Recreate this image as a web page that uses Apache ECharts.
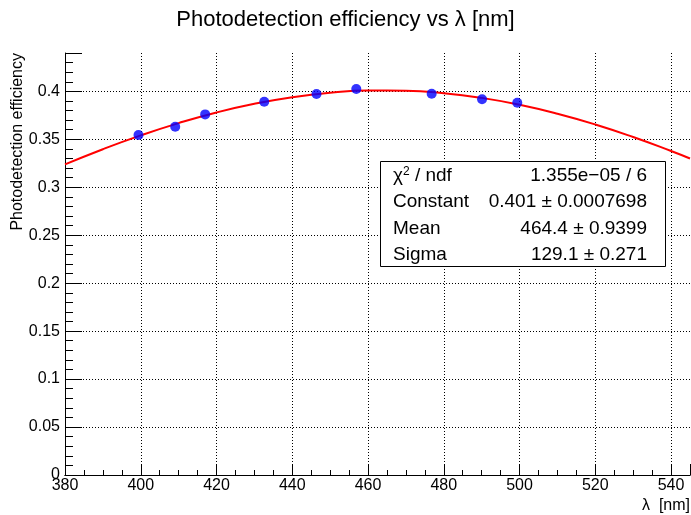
<!DOCTYPE html>
<html>
<head>
<meta charset="utf-8">
<script src="https://cdn.jsdelivr.net/npm/echarts@6/dist/echarts.min.js"></script>
<style>
html,body{margin:0;padding:0;background:#fff;}
#c{width:691px;height:515px;}
</style>
</head>
<body>
<div id="c"></div>
<script>
// ---- data ----
var titleText = 'Photodetection efficiency vs \u03bb [nm]';
var yAxisTitle = 'Photodetection efficiency';
var xAxisTitle = '\u03bb  [nm]';

var pointX = [399.4, 409.1, 417.0, 432.6, 446.4, 456.9, 476.8, 490.1, 499.4];
var pointY = [0.3545, 0.3631, 0.3760, 0.3892, 0.3972, 0.4024, 0.3975, 0.3917, 0.3881];

var fitX = [380, 390, 400, 410, 420, 430, 440, 450, 460, 470, 480, 490, 500, 510, 520, 530, 540, 545];
var fitY = [0.3238, 0.3397, 0.3541, 0.3669, 0.3780, 0.3870, 0.3939, 0.3985, 0.4008, 0.4006, 0.3981, 0.3932, 0.3860, 0.3767, 0.3655, 0.3524, 0.3378, 0.3300];

var statsLabels = ['chi2', 'Constant', 'Mean', 'Sigma'];
var statsValues = ['1.355e\u221205 / 6', '0.401 \u00b1 0.0007698', '464.4 \u00b1 0.9399', '129.1 \u00b1 0.271'];

var xMin = 380, xMax = 545, xStep = 20;
var yMin = 0, yMax = 0.44, yStep = 0.05;

// ---- chart ----
var FONT = '"Liberation Sans", Arial, Helvetica, sans-serif';
var chart = echarts.init(document.getElementById('c'), null, {renderer: 'canvas'});

var pts = pointX.map(function (x, i) { return [x, pointY[i]]; });
var fit = fitX.map(function (x, i) { return [x, fitY[i]]; });

var gridL = 65, gridT = 53, gridW = 625, gridH = 422;

var statsRows = [];
var rowY0 = 176, rowDy = 26.2;
statsLabels.forEach(function (lab, i) {
  var leftText = lab === 'chi2' ? '{a|\u03c7}{s|2}{a| / ndf}' : '{a|' + lab + '}';
  statsRows.push({
    type: 'text', x: 393, y: rowY0 + i * rowDy, z: 101,
    style: {
      text: leftText, fill: '#000', font: '19px ' + FONT,
      textAlign: 'left', textVerticalAlign: 'middle',
      rich: {
        a: {fontFamily: FONT, fontSize: 19, fill: '#000'},
        s: {fontFamily: FONT, fontSize: 12, fill: '#000', verticalAlign: 'top', padding: [0, 0, 8, 0]}
      }
    }
  });
  statsRows.push({
    type: 'text', x: 647, y: rowY0 + i * rowDy, z: 101,
    style: {
      text: statsValues[i], fill: '#000', font: '19px ' + FONT,
      textAlign: 'right', textVerticalAlign: 'middle'
    }
  });
});

var option = {
  backgroundColor: '#fff',
  animation: false,
  textStyle: {fontFamily: FONT},
  title: {
    text: titleText, left: 'center', top: 4,
    textStyle: {fontFamily: FONT, fontSize: 22, fontWeight: 'normal', color: '#000'}
  },
  grid: {left: gridL, top: gridT, width: gridW, height: gridH, containLabel: false},
  xAxis: [{
    type: 'value', min: xMin, max: xMax, interval: xStep,
    axisLine: {show: true, onZero: false, lineStyle: {color: '#000', width: 1}},
    axisTick: {show: true, inside: true, length: 11, lineStyle: {color: '#000'}},
    minorTick: {show: true, splitNumber: 4, length: 5, lineStyle: {color: '#000'}},
    axisLabel: {show: true, color: '#000', fontFamily: FONT, fontSize: 16, margin: 3, showMaxLabel: false,
      formatter: function (v) { return (v - xMin) % xStep === 0 ? String(v) : ''; }},
    splitLine: {show: true, showMaxLine: false, lineStyle: {color: '#000', type: [1, 2], width: 1}}
  }, {
    type: 'value', min: xMin, max: xMax, position: 'top',
    axisLine: {show: true, lineStyle: {color: '#000', width: 1}},
    axisTick: {show: false}, axisLabel: {show: false}, splitLine: {show: false}
  }],
  yAxis: [{
    type: 'value', min: yMin, max: yMax, interval: yStep,
    axisLine: {show: true, onZero: false, lineStyle: {color: '#000', width: 1}},
    axisTick: {show: true, inside: true, length: 17, lineStyle: {color: '#000'}},
    minorTick: {show: true, splitNumber: 5, length: 8, lineStyle: {color: '#000'}},
    axisLabel: {show: true, color: '#000', fontFamily: FONT, fontSize: 16, margin: 5, showMaxLabel: false},
    splitLine: {show: true, showMaxLine: false, lineStyle: {color: '#000', type: [1, 2], width: 1}}
  }],
  graphic: [
    {
      type: 'text', x: 18, y: 53, rotation: Math.PI / 2, z: 50,
      style: {text: yAxisTitle, fill: '#000', font: '16px ' + FONT, textAlign: 'right', textVerticalAlign: 'middle'}
    },
    {
      type: 'text', x: 690, y: 506, z: 50,
      style: {text: xAxisTitle, fill: '#000', font: '16px ' + FONT, textAlign: 'right', textVerticalAlign: 'middle'}
    },
    {
      type: 'rect', shape: {x: 380.5, y: 161.5, width: 285, height: 105}, z: 100,
      style: {fill: '#fff', stroke: '#000', lineWidth: 1}
    }
  ].concat(statsRows),
  series: [
    {
      type: 'line', data: fit, smooth: true, showSymbol: false, symbol: 'none',
      lineStyle: {color: '#ff0000', width: 2}, z: 3, clip: true
    },
    {
      type: 'scatter', data: pts, symbol: 'circle', symbolSize: 10,
      itemStyle: {color: '#0000ff'}, z: 4
    }
  ]
};
chart.setOption(option);
</script>
</body>
</html>
